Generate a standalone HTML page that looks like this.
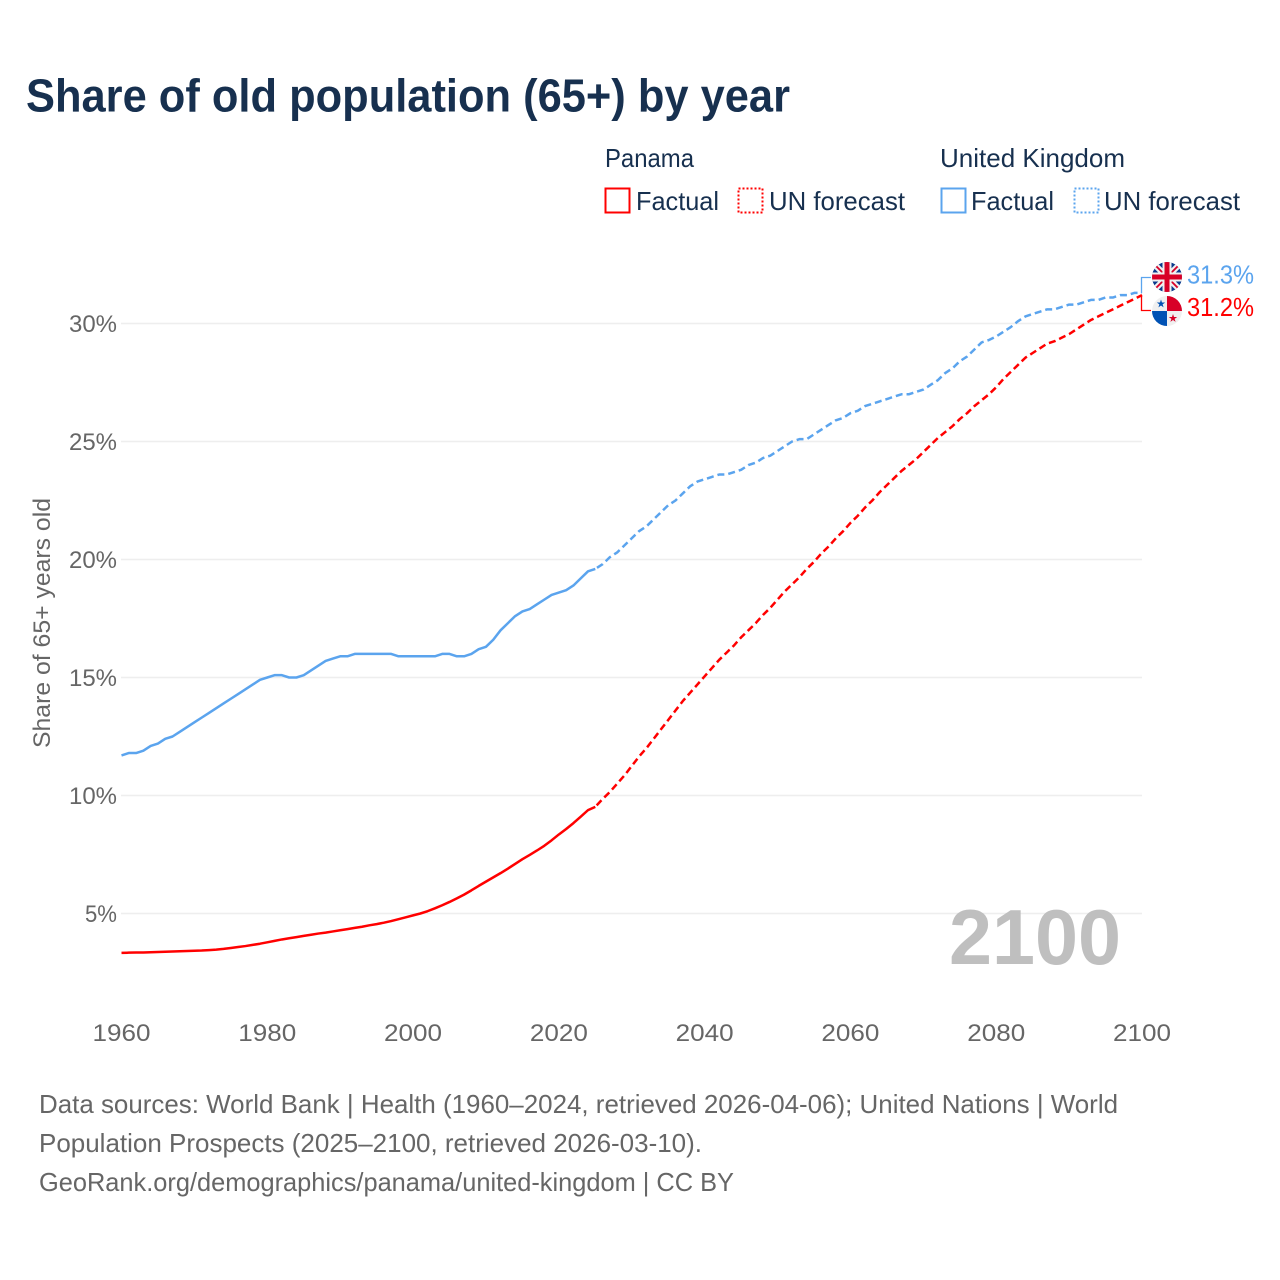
<!DOCTYPE html>
<html lang="en">
<head>
<meta charset="utf-8">
<title>Share of old population (65+) by year</title>
<style>
html,body{margin:0;padding:0;background:#fff;}
svg{display:block;}
text{font-family:"Liberation Sans",sans-serif;}
</style>
</head>
<body>
<svg id="chart" xmlns="http://www.w3.org/2000/svg" width="1280" height="1280" viewBox="0 0 1280 1280">
  <defs>
    <clipPath id="clip-uk"><circle cx="1167" cy="277" r="15"/></clipPath>
    <clipPath id="clip-pa"><circle cx="1167" cy="311" r="15"/></clipPath>
  </defs>
  <rect width="1280" height="1280" fill="#fff"/>
  <text x="26" y="111.500" font-size="46" font-weight="700" fill="#17304f" textLength="764" lengthAdjust="spacingAndGlyphs">Share of old population (65+) by year</text>

  <g font-size="26" fill="#17304f">
    <text x="605" y="167" textLength="89" lengthAdjust="spacingAndGlyphs">Panama</text>
    <text x="940" y="167" textLength="185" lengthAdjust="spacingAndGlyphs">United Kingdom</text>
    <rect x="605.500" y="188.500" width="24" height="24" fill="none" stroke="#ff0000" stroke-width="2"/>
    <text x="636" y="210" textLength="83" lengthAdjust="spacingAndGlyphs">Factual</text>
    <rect x="738.500" y="188.500" width="24" height="24" fill="none" stroke="#ff0000" stroke-width="2" stroke-dasharray="2 2"/>
    <text x="769" y="210" textLength="136" lengthAdjust="spacingAndGlyphs">UN forecast</text>
    <rect x="941.500" y="188.500" width="24" height="24" fill="none" stroke="#5ba4ee" stroke-width="2"/>
    <text x="971" y="210" textLength="83" lengthAdjust="spacingAndGlyphs">Factual</text>
    <rect x="1074.500" y="188.500" width="24" height="24" fill="none" stroke="#5ba4ee" stroke-width="2" stroke-dasharray="2 2"/>
    <text x="1104" y="210" textLength="136" lengthAdjust="spacingAndGlyphs">UN forecast</text>
  </g>

  <g id="grid"></g>
  <g id="y-ticks"></g>
  <g id="x-ticks"></g>
  <text transform="translate(50,748) rotate(-90)" font-size="24" fill="#666" textLength="250" lengthAdjust="spacingAndGlyphs">Share of 65+ years old</text>
  <text x="949" y="964" font-size="78" font-weight="700" fill="#bfbfbf" textLength="172" lengthAdjust="spacingAndGlyphs">2100</text>

  <g id="series"></g>

  <path d="M1141.500 293V277.500H1151" fill="none" stroke="#5ba4ee" stroke-width="1.300"/>
  <path d="M1141.500 295V310.500H1151" fill="none" stroke="#ff0000" stroke-width="1.300"/>

  <g clip-path="url(#clip-uk)">
    <rect x="1152" y="262" width="30" height="30" fill="#0a3a8c"/>
    <path d="M1152 262L1182 292M1182 262L1152 292" stroke="#f0f0f0" stroke-width="6"/>
    <path d="M1152 262L1182 292M1182 262L1152 292" stroke="#d80027" stroke-width="1.800"/>
    <path d="M1167 262V292M1152 277H1182" stroke="#f0f0f0" stroke-width="9"/>
    <path d="M1167 262V292M1152 277H1182" stroke="#d80027" stroke-width="5"/>
  </g>
  <g clip-path="url(#clip-pa)">
    <rect x="1152" y="296" width="30" height="30" fill="#f0f0f0"/>
    <rect x="1167" y="296" width="15" height="15" fill="#d80027"/>
    <rect x="1152" y="311" width="15" height="15" fill="#0052b4"/>
    <path d="M1161 299.500l1 3h3.200l-2.600 1.900 1 3-2.600-1.900-2.600 1.900 1-3-2.600-1.900h3.200z" fill="#0052b4"/>
    <path d="M1173 314l1 3h3.200l-2.600 1.900 1 3-2.600-1.900-2.600 1.900 1-3-2.600-1.900h3.200z" fill="#d80027"/>
  </g>
  <text x="1187" y="283.500" font-size="26" fill="#5ba4ee" textLength="67" lengthAdjust="spacingAndGlyphs">31.3%</text>
  <text x="1187" y="316" font-size="26" fill="#ff0000" textLength="67" lengthAdjust="spacingAndGlyphs">31.2%</text>

  <g font-size="26" fill="#666">
    <text x="39" y="1113" textLength="1079" lengthAdjust="spacingAndGlyphs">Data sources: World Bank | Health (1960–2024, retrieved 2026-04-06); United Nations | World</text>
    <text x="39" y="1152" textLength="663" lengthAdjust="spacingAndGlyphs">Population Prospects (2025–2100, retrieved 2026-03-10).</text>
    <text x="39" y="1191" textLength="695" lengthAdjust="spacingAndGlyphs">GeoRank.org/demographics/panama/united-kingdom | CC BY</text>
  </g>
</svg>
<script>
const xTickYears = [1960, 1980, 2000, 2020, 2040, 2060, 2080, 2100];
const yTickValues = [5, 10, 15, 20, 25, 30];
const factualStartYear = 1960;
const forecastStartYear = 2025;
const ukFactual = [11.7,11.8,11.8,11.9,12.1,12.2,12.4,12.5,12.7,12.9,13.1,13.3,13.5,13.7,13.9,14.1,14.3,14.5,14.7,14.9,15.0,15.1,15.1,15.0,15.0,15.1,15.3,15.5,15.7,15.8,15.9,15.9,16.0,16.0,16.0,16.0,16.0,16.0,15.9,15.9,15.9,15.9,15.9,15.9,16.0,16.0,15.9,15.9,16.0,16.2,16.3,16.6,17.0,17.3,17.6,17.8,17.9,18.1,18.3,18.5,18.6,18.7,18.9,19.2,19.5,19.6];
const ukForecast = [19.6,19.8,20.1,20.3,20.6,20.9,21.2,21.4,21.7,22.0,22.3,22.5,22.8,23.1,23.3,23.4,23.5,23.6,23.6,23.7,23.8,24.0,24.1,24.3,24.4,24.6,24.8,25.0,25.1,25.1,25.3,25.5,25.7,25.9,26.0,26.2,26.3,26.5,26.6,26.7,26.8,26.9,27.0,27.0,27.1,27.2,27.4,27.6,27.9,28.1,28.4,28.6,28.9,29.2,29.3,29.45,29.65,29.85,30.1,30.3,30.4,30.5,30.6,30.6,30.7,30.8,30.8,30.9,31.0,31.0,31.1,31.1,31.2,31.2,31.3,31.3];
const panamaFactual = [3.33,3.34,3.35,3.35,3.36,3.37,3.38,3.39,3.40,3.41,3.42,3.43,3.45,3.47,3.50,3.54,3.58,3.62,3.67,3.72,3.78,3.84,3.90,3.95,4.00,4.05,4.10,4.15,4.19,4.24,4.29,4.34,4.39,4.44,4.50,4.55,4.61,4.68,4.76,4.84,4.92,5.00,5.10,5.22,5.35,5.49,5.64,5.80,5.98,6.17,6.35,6.53,6.71,6.90,7.10,7.30,7.48,7.67,7.87,8.10,8.35,8.58,8.83,9.10,9.38,9.52];
const panamaForecast = [9.52,9.85,10.15,10.5,10.85,11.25,11.65,12.0,12.4,12.8,13.2,13.6,14.0,14.35,14.7,15.05,15.4,15.75,16.05,16.35,16.7,17.0,17.3,17.65,17.95,18.3,18.65,18.95,19.25,19.6,19.9,20.25,20.55,20.9,21.2,21.55,21.85,22.2,22.5,22.85,23.15,23.45,23.75,24.0,24.25,24.55,24.85,25.15,25.4,25.65,25.95,26.2,26.5,26.75,27.0,27.3,27.65,27.95,28.25,28.55,28.75,28.95,29.15,29.25,29.4,29.55,29.75,29.95,30.15,30.3,30.45,30.6,30.75,30.9,31.05,31.2];

const SVG_NS = 'http://www.w3.org/2000/svg';
function xScale(year) { return 121.5 + (year - 1960) * (1142 - 121.5) / 140; }
function yScale(value) { return 913.5 - (value - 5) * 23.6; }
function make(tag, attrs, parentId) {
  const el = document.createElementNS(SVG_NS, tag);
  for (const k in attrs) el.setAttribute(k, attrs[k]);
  document.getElementById(parentId).appendChild(el);
  return el;
}
function linePoints(values, startYear) {
  return values.map(function (v, i) { return xScale(startYear + i).toFixed(2) + ',' + yScale(v).toFixed(2); }).join(' ');
}

yTickValues.forEach(function (v) {
  const line = make('line', { x1: 121, x2: 1142, y1: yScale(v), y2: yScale(v), stroke: '#eeeeee', 'stroke-width': 1.6 }, 'grid');
  
  
  const label = make('text', { x: 117, y: yScale(v) + 8.5, 'text-anchor': 'end', 'font-size': 24.5, fill: '#666', textLength: v < 10 ? 32 : 48, lengthAdjust: 'spacingAndGlyphs' }, 'y-ticks');
  
  
  label.textContent = v + '%';
});

xTickYears.forEach(function (year) {
  const label = make('text', { x: xScale(year), y: 1041, 'text-anchor': 'middle', 'font-size': 24.5, fill: '#666', textLength: 58, lengthAdjust: 'spacingAndGlyphs' }, 'x-ticks');
  
  
  label.textContent = year;
});

function drawLine(values, startYear, color, dashed, name) {
  const attrs = { points: linePoints(values, startYear), fill: 'none', stroke: color, 'stroke-width': 2.5, 'stroke-linejoin': 'round' };
  if (dashed) {
    attrs['stroke-dasharray'] = '7 4';
    attrs['stroke-dashoffset'] = '-2';
  }
  const line = make('polyline', attrs, 'series');
  
  
}
drawLine(ukFactual, factualStartYear, '#5ba4ee', false, 'line-uk-factual');
drawLine(ukForecast, forecastStartYear, '#5ba4ee', true, 'line-uk-forecast');
drawLine(panamaFactual, factualStartYear, '#ff0000', false, 'line-panama-factual');
drawLine(panamaForecast, forecastStartYear, '#ff0000', true, 'line-panama-forecast');
</script>
</body>
</html>
